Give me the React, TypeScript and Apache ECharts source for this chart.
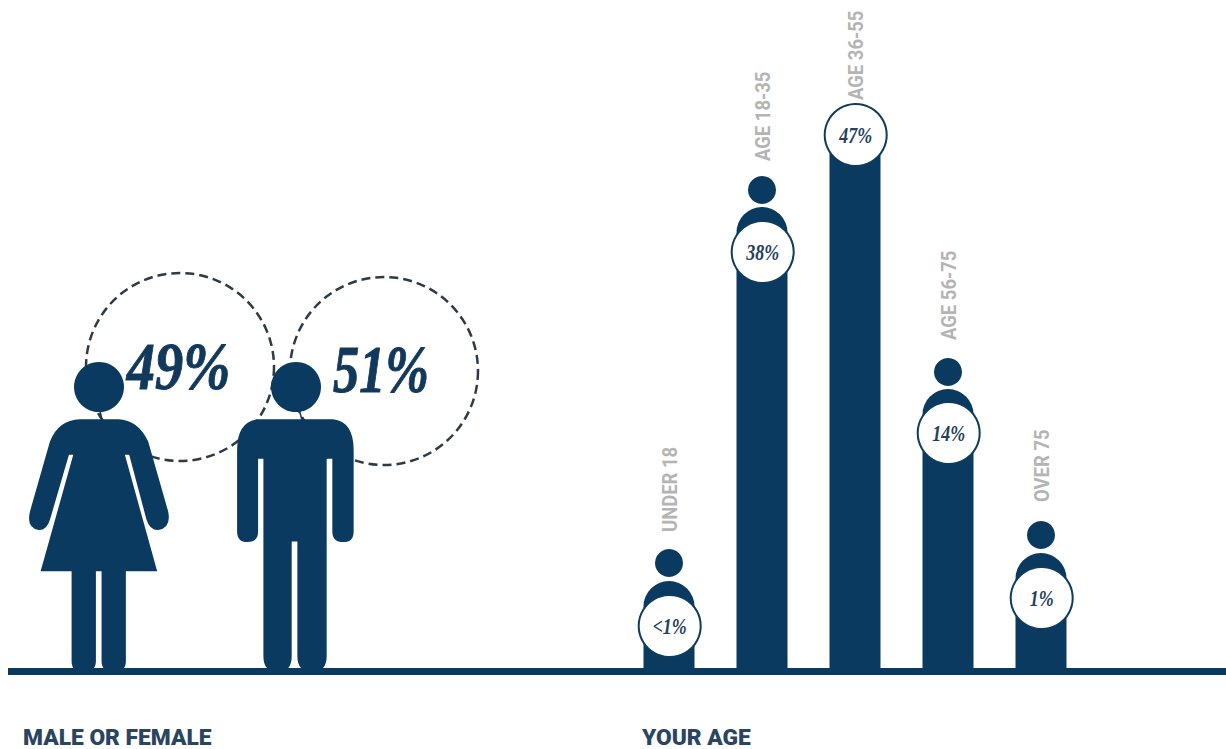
import React, { useEffect, useRef } from "react";
import * as echarts from "echarts";

const ageGroups = ["UNDER 18", "AGE 18-35", "AGE 36-55", "AGE 56-75", "OVER 75"];
const agePercents = ["<1%", "38%", "47%", "14%", "1%"];
// Heights, in pixels above the base line (the infographic is not to scale)
const columnHeights = [91, 465, 545, 283, 119];
const headHeights: (number | null)[] = [109, 482, null, 300, 137];
const badgeHeights = [46, 420, 537, 239, 74];
const labelHeights = [140, 511, 572, 332, 170];

const genderPercents = ["49%", "51%"];
const panelTitles = ["MALE OR FEMALE", "YOUR AGE"];

const NAVY = "#0a3a5f";
const SERIF = '"Liberation Serif", serif';

const FEMALE =
  "M240 478 L355 478 Q415 480 445 545 L505 755 Q515 805 475 811 Q450 812 440 780 L388 585 L375 585 L472 935 L378 935 L378 1205 Q378 1237 342 1237 Q305 1237 305 1205 L305 935 L288 935 L288 1205 Q288 1237 250 1237 Q215 1237 215 1205 L215 935 L122 935 L220 585 L207 585 L150 780 Q140 812 117 811 Q78 805 90 755 L150 545 Q175 480 240 478 Z";
const MALE =
  "M775 478 L1000 478 Q1062 485 1062 570 L1062 815 Q1062 847 1031 847 Q998 847 998 815 L998 597 L981 597 L981 1190 Q981 1237 937 1237 Q893 1237 893 1190 L893 845 L876 845 L876 1190 Q876 1237 834 1237 Q791 1237 791 1190 L791 597 L775 597 L775 815 Q775 847 743 847 Q712 847 712 815 L712 570 Q712 485 775 478 Z";

echarts.graphic.registerShape("femaleFigure", echarts.graphic.extendPath(FEMALE, {}) as any);
echarts.graphic.registerShape("maleFigure", echarts.graphic.extendPath(MALE, {}) as any);

export default function App() {
  const ref = useRef<HTMLDivElement>(null);

  useEffect(() => {
    const chart = echarts.init(ref.current!, undefined, { renderer: "svg" });

    const dashed = (cx: number, cy: number) => ({
      type: "circle",
      z: 1,
      shape: { cx, cy, r: 94 },
      style: { fill: "none", stroke: "#2e3a44", lineWidth: 2.5, lineDash: [9, 5] },
    });
    const bigPercent = (text: string, x: number, y: number, scaleX: number) => ({
      type: "text",
      z: 2,
      x,
      y,
      scaleX,
      style: {
        text,
        fill: "#12395c",
        stroke: "#12395c",
        lineWidth: 1,
        font: `italic bold 68px ${SERIF}`,
        align: "center",
        verticalAlign: "middle",
      },
    });
    const figure = (type: string) => ({
      type,
      z: 3,
      x: 0,
      y: 260,
      scaleX: 1 / 3,
      scaleY: 1 / 3,
      style: { fill: NAVY },
    });
    const head = (cx: number, cy: number) => ({
      type: "circle",
      z: 3,
      shape: { cx, cy, r: 25 },
      style: { fill: NAVY },
    });
    const neck = (x1: number, x2: number) => ({
      type: "line",
      z: 3,
      shape: { x1, y1: 411, x2, y2: 420 },
      style: { stroke: NAVY, lineWidth: 1.5 },
    });
    const title = (text: string, x: number) => ({
      type: "text",
      z: 3,
      x,
      y: 737,
      scaleX: 1.035,
      style: {
        text,
        fill: "#2a4560",
        font: "900 22px Roboto, sans-serif",
        align: "left",
        verticalAlign: "middle",
      },
    });

    chart.setOption({
      animation: false,
      backgroundColor: "#ffffff",
      grid: { left: 622.5, right: 138.5, top: 0, bottom: 77 },
      xAxis: {
        type: "category",
        data: ageGroups,
        axisLine: { show: false },
        axisTick: { show: false },
        axisLabel: { show: false },
      },
      yAxis: {
        type: "value",
        min: 0,
        max: 672,
        splitLine: { show: false },
        axisLine: { show: false },
        axisTick: { show: false },
        axisLabel: { show: false },
      },
      graphic: [
        dashed(180, 367),
        dashed(384, 371),
        bigPercent(genderPercents[0], 178.5, 366, 0.83),
        bigPercent(genderPercents[1], 381, 369, 0.77),
        figure("femaleFigure"),
        figure("maleFigure"),
        head(99, 387),
        head(296, 387),
        neck(100, 102),
        neck(299.5, 302),
        {
          type: "rect",
          z: 10,
          shape: { x: 8, y: 668, width: 1218, height: 7 },
          style: { fill: NAVY },
        },
        title(panelTitles[0], 23),
        title(panelTitles[1], 642),
      ],
      series: [
        {
          type: "custom",
          name: "Column",
          z: 2,
          silent: true,
          data: columnHeights.map((h, i) => [i, h]),
          renderItem: (_p: any, api: any) => {
            const [x, top] = api.coord([api.value(0), api.value(1)]);
            const [, base] = api.coord([api.value(0), 0]);
            return {
              type: "rect",
              shape: { x: x - 25.5, y: top, width: 51, height: base - top, r: [25.5, 25.5, 0, 0] },
              style: { fill: NAVY },
            };
          },
        },
        {
          type: "scatter",
          name: "Head",
          z: 2,
          silent: true,
          symbol: "circle",
          symbolSize: 28,
          itemStyle: { color: NAVY, opacity: 1 },
          data: headHeights.map((h, i) => [i, h]),
        },
        {
          type: "custom",
          name: "Share",
          z: 4,
          silent: true,
          data: badgeHeights.map((h, i) => [i, h]),
          renderItem: (p: any, api: any) => {
            const [x, y] = api.coord([api.value(0), api.value(1)]);
            return {
              type: "group",
              children: [
                {
                  type: "circle",
                  shape: { cx: x + 0.7, cy: y, r: 31 },
                  style: { fill: "#ffffff", stroke: "#0f3c5c", lineWidth: 2 },
                },
                {
                  type: "text",
                  x: x + 0.7,
                  y,
                  scaleX: 0.78,
                  style: {
                    text: agePercents[p.dataIndex],
                    fill: "#24405a",
                    font: `italic bold 23px ${SERIF}`,
                    align: "center",
                    verticalAlign: "middle",
                  },
                },
              ],
            };
          },
        },
        {
          type: "custom",
          name: "Age label",
          z: 4,
          silent: true,
          data: labelHeights.map((h, i) => [i, h]),
          renderItem: (p: any, api: any) => {
            const [x, y] = api.coord([api.value(0), api.value(1)]);
            return {
              type: "text",
              x: x + 1,
              y,
              rotation: Math.PI / 2,
              scaleX: 0.88,
              style: {
                text: ageGroups[p.dataIndex],
                fill: "#b4b4b4",
                font: "bold 21px Roboto, sans-serif",
                align: "left",
                verticalAlign: "middle",
              },
            };
          },
        },
      ],
    });

    return () => chart.dispose();
  }, []);

  return (
    <div
      ref={ref}
      style={{ position: "fixed", left: 0, top: 0, width: 1226, height: 749 }}
    />
  );
}
